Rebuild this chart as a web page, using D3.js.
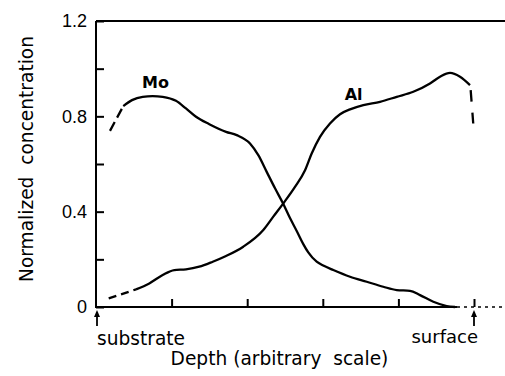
<!DOCTYPE html>
<html>
<head>
<meta charset="utf-8">
<script src="https://cdn.jsdelivr.net/npm/d3@7"></script>
<style>
  html, body { margin: 0; padding: 0; background: #fff; }
  svg { display: block; }
</style>
</head>
<body>
<svg id="chart" width="505" height="376"></svg>
<script>
// ---- data (depth in arbitrary units, normalized concentration) ----
const moDashedDepth = [0.185, 0.361];
const moDashedConc  = [0.739, 0.843];
const moDepth = [0.361, 0.476, 0.618, 0.749, 0.882, 1.058, 1.190, 1.323, 1.499, 1.720, 1.861, 2.037, 2.147, 2.258, 2.368, 2.478, 2.566, 2.655, 2.742, 2.808, 2.919, 3.006, 3.139, 3.360, 3.581, 3.800, 3.978, 4.153, 4.286, 4.462, 4.639, 4.749];
const moConc  = [0.843, 0.868, 0.882, 0.885, 0.882, 0.865, 0.833, 0.798, 0.767, 0.735, 0.721, 0.686, 0.637, 0.567, 0.498, 0.432, 0.373, 0.319, 0.264, 0.229, 0.190, 0.174, 0.155, 0.127, 0.106, 0.085, 0.071, 0.068, 0.050, 0.022, 0.004, 0.0];

const alDashedDepth = [0.168, 0.529];
const alDashedConc  = [0.036, 0.074];
const alDepth = [0.529, 0.705, 0.882, 1.036, 1.190, 1.366, 1.544, 1.720, 1.948, 2.213, 2.345, 2.478, 2.632, 2.765, 2.853, 2.963, 3.095, 3.228, 3.360, 3.536, 3.757, 3.978, 4.197, 4.418, 4.550, 4.683, 4.815, 4.947];
const alConc  = [0.074, 0.099, 0.134, 0.155, 0.158, 0.169, 0.190, 0.214, 0.253, 0.323, 0.379, 0.435, 0.504, 0.574, 0.644, 0.714, 0.770, 0.809, 0.829, 0.847, 0.861, 0.882, 0.903, 0.938, 0.966, 0.982, 0.966, 0.931];
const alEndDepth = [4.956, 4.990];
const alEndConc  = [0.910, 0.770];

const yTicks = [0, 0.2, 0.4, 0.6, 0.8, 1.0, 1.2];
const yTickLabels = ["0", "", "0.4", "", "0.8", "", "1.2"];
const xTicks = [1, 2, 3, 4, 5];
const seriesLabels = [{name: "Mo", depth: 0.61, conc: 0.92}, {name: "Al", depth: 3.29, conc: 0.869}];
const endLabels = [{name: "substrate", depth: 0}, {name: "surface", depth: 5}];
const xTitle = "Depth (arbitrary\u00a0\u00a0scale)";
const yTitle = "Normalized\u00a0\u00a0concentration";

// ---- layout ----
const svg = d3.select("#chart");
const mLeft = 96, mRight = 505, mTop = 21, mBottom = 307;
const x = d3.scaleLinear().domain([0, 5]).range([mLeft, 474]);
const y = d3.scaleLinear().domain([0, 1.2]).range([mBottom, mTop]);
const font = "'DejaVu Sans', sans-serif";

// frame lines
svg.append("line").attr("x1", mLeft).attr("x2", mRight).attr("y1", mTop).attr("y2", mTop)
  .attr("stroke", "#000").attr("stroke-width", 2);
svg.append("line").attr("x1", mLeft).attr("x2", mLeft).attr("y1", mTop).attr("y2", mBottom + 1)
  .attr("stroke", "#000").attr("stroke-width", 2);
svg.append("line").attr("x1", mLeft).attr("x2", 457).attr("y1", mBottom).attr("y2", mBottom)
  .attr("stroke", "#000").attr("stroke-width", 2);
svg.append("line").attr("x1", 457).attr("x2", mRight).attr("y1", mBottom).attr("y2", mBottom)
  .attr("stroke", "#000").attr("stroke-width", 1.4).attr("stroke-dasharray", "3,4");

// y axis (ticks inward)
const yAxis = d3.axisRight(y).tickValues(yTicks).tickSize(8).tickFormat("");
const gy = svg.append("g").attr("transform", `translate(${mLeft},0)`).call(yAxis);
gy.select(".domain").remove();
gy.selectAll(".tick line").attr("stroke", "#000").attr("stroke-width", 2);
svg.append("g").selectAll("text").data(yTicks).join("text")
  .attr("x", 87).attr("y", d => y(d)).attr("dy", "0.36em")
  .attr("text-anchor", "end")
  .attr("font-family", "'Liberation Sans', Arial, sans-serif").attr("font-size", 18)
  .text((d, i) => yTickLabels[i]);

// x axis (ticks inward, no labels)
const xAxis = d3.axisTop(x).tickValues(xTicks).tickSize(8).tickFormat("");
const gx = svg.append("g").attr("transform", `translate(0,${mBottom})`).call(xAxis);
gx.select(".domain").remove();
gx.selectAll(".tick line").attr("stroke", "#000").attr("stroke-width", 2);

// curves
const toPts = (xs, ys) => xs.map((d, i) => [d, ys[i]]);
const lineSmooth = d3.line().x(d => x(d[0])).y(d => y(d[1])).curve(d3.curveMonotoneX);
const lineStraight = d3.line().x(d => x(d[0])).y(d => y(d[1]));

const curveStyle = sel => sel.attr("fill", "none").attr("stroke", "#000")
  .attr("stroke-width", 2.3).attr("stroke-linejoin", "round");

svg.append("path").attr("d", lineSmooth(toPts(moDepth, moConc))).call(curveStyle);
svg.append("path").attr("d", lineStraight(toPts(moDashedDepth, moDashedConc))).call(curveStyle)
  .attr("stroke-dasharray", "10,5");
svg.append("path").attr("d", lineSmooth(toPts(alDepth, alConc))).call(curveStyle);
svg.append("path").attr("d", lineStraight(toPts(alDashedDepth, alDashedConc))).call(curveStyle)
  .attr("stroke-dasharray", "8,5");
svg.append("path").attr("d", lineStraight(toPts(alEndDepth, alEndConc))).call(curveStyle)
  .attr("stroke-dasharray", "11.5,11");

// series labels
svg.append("g").selectAll("text").data(seriesLabels).join("text")
  .attr("x", d => x(d.depth)).attr("y", d => y(d.conc))
  .attr("font-family", font).attr("font-weight", "bold").attr("font-size", 16)
  .text(d => d.name);

// arrows + end labels
endLabels.forEach(d => {
  const ax = x(d.depth) + (d.depth === 0 ? 1 : 0);
  svg.append("line").attr("x1", ax).attr("x2", ax).attr("y1", 313).attr("y2", 326)
    .attr("stroke", "#000").attr("stroke-width", 1.8);
  svg.append("path")
    .attr("d", `M${ax - 3},${317} L${ax},${310} L${ax + 3},${317} Z`)
    .attr("fill", "#000");
});
svg.append("text").attr("x", 97).attr("y", 345)
  .attr("font-family", font).attr("font-size", 18.6).text(endLabels[0].name);
svg.append("text").attr("x", 478).attr("y", 343).attr("text-anchor", "end")
  .attr("font-family", font).attr("font-size", 18).text(endLabels[1].name);

// axis titles
svg.append("text").attr("x", 279.5).attr("y", 365).attr("text-anchor", "middle")
  .attr("font-family", font).attr("font-size", 18.6).text(xTitle);
svg.append("text").attr("transform", "translate(33,159) rotate(-90)")
  .attr("text-anchor", "middle")
  .attr("font-family", font).attr("font-size", 18.6).text(yTitle);
</script>
</body>
</html>
